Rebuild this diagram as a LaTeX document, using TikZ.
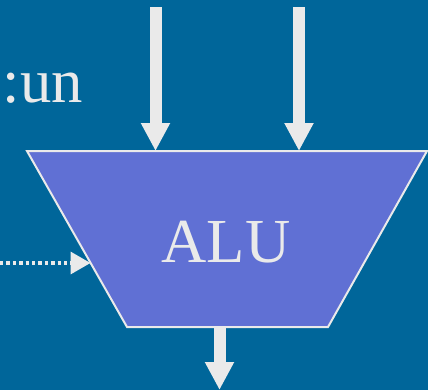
\documentclass[tikz,border=0pt]{standalone}
\usepackage{fontspec}
\setmainfont{Liberation Serif}
\usetikzlibrary{arrows.meta}
\definecolor{slideblue}{RGB}{0,102,154}
\definecolor{alufill}{RGB}{96,112,212}
\definecolor{offwhite}{RGB}{234,234,234}
\begin{document}
\begin{tikzpicture}[x=0.75pt,y=-0.75pt,
        busarrow/.style={draw=offwhite, line width=9pt, -{Triangle[width=20.5pt,length=21pt]}},
        ctrlarrow/.style={draw=offwhite, line width=2.6pt, dash pattern=on 2.6pt off 2.2pt, -{Triangle[width=16.5pt,length=15pt]}},
        bigtext/.style={text=offwhite, font=\fontsize{47}{56}\selectfont, inner sep=0pt}]
        % Draw the background.
        \fill[slideblue] (0,0) rectangle (428,390);
        \useasboundingbox (0,0) rectangle (428,390);
        % Draw the ALU outline.
        \draw[fill=alufill, draw=offwhite, line width=1.5pt] (27,151) -- (427,151) -- (328,327) -- (127,327) -- cycle;
        \node[bigtext, anchor=base] (alu) at (226,262) {ALU};
        % Specify the ports.
        \coordinate (inA) at (155.5,151);
        \coordinate (inB) at (299,151);
        \coordinate (out) at (219.5,327);
        \coordinate (ctrl) at (90.5,263);
        \coordinate (srcA) at (155.5,7);
        \coordinate (srcB) at (299,7);
        \coordinate (dst) at (219.5,390);
        \coordinate (csrc) at (0,263);
        % Draw the arrows.
        \draw[busarrow] (srcA) -- (inA);
        \draw[busarrow] (srcB) -- (inB);
        \draw[busarrow] (out) -- (dst);
        \draw[ctrlarrow] (csrc) -- (ctrl);
        % Specify the label.
        \node[bigtext, anchor=base east] (lbl) at (83,102) {:un};
    \end{tikzpicture}
\end{document}
